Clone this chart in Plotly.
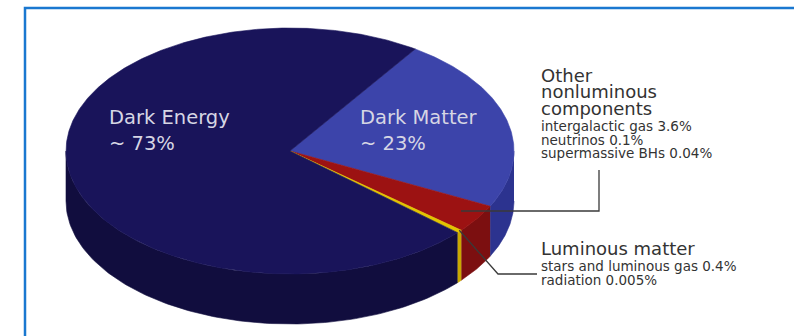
import numpy as np
import plotly.graph_objects as go

# --- data -------------------------------------------------------------
slice_names = ["Dark Matter", "Other nonluminous components", "Luminous matter", "Dark Energy"]
other_parts = ["intergalactic gas", "neutrinos", "supermassive BHs"]
other_values = [3.6, 0.1, 0.04]
luminous_parts = ["stars and luminous gas", "radiation"]
luminous_values = [0.4, 0.005]
dark_matter = 23
dark_energy = 73

slice_values = [dark_matter, sum(other_values), sum(luminous_values), dark_energy]

# --- styling ----------------------------------------------------------
top_colors = ["#3c44aa", "#9c1212", "#e2c400", "#19145a"]
side_colors = ["#2c338f", "#7c0f10", "#c8a800", "#110d3e"]
FONT = "DejaVu Sans"
TEXT_DARK = "#333333"
LABEL_LIGHT = "#d6d6e4"

W, H = 794, 336
cx, cy = 290.0, 151.0      # centre of the top face
rx, ry = 224.0, 123.0      # ellipse radii of the tilted disc
depth = 50.0               # thickness of the disc
start_deg = 56.0           # first slice starts here and runs clockwise


def rim(theta_deg, dy=0.0):
    t = np.radians(theta_deg)
    return cx + rx * np.cos(t), cy - ry * np.sin(t) + dy


total = sum(slice_values)
bounds = [start_deg]
for v in slice_values:
    bounds.append(bounds[-1] - v / total * 360.0)

fig = go.Figure()

# side walls (only the front half of the rim is visible)
for i, (s, e) in enumerate(zip(bounds[:-1], bounds[1:])):
    for k in (-1, 0, 1):
        lo, hi = max(e, -180.0 + 360 * k), min(s, 0.0 + 360 * k)
        if hi <= lo:
            continue
        th = np.linspace(hi, lo, 120)
        xt, yt = rim(th)
        xb, yb = rim(th[::-1], depth)
        fig.add_trace(go.Scatter(
            x=np.concatenate([xt, xb]), y=np.concatenate([yt, yb]),
            fill="toself", fillcolor=side_colors[i], mode="lines",
            line=dict(color=side_colors[i], width=0.6),
            hoverinfo="skip", showlegend=False))

# top face slices
for i, (s, e) in enumerate(zip(bounds[:-1], bounds[1:])):
    th = np.linspace(s, e, max(int(abs(s - e) * 2), 8))
    xa, ya = rim(th)
    fig.add_trace(go.Scatter(
        x=np.concatenate([[cx], xa, [cx]]), y=np.concatenate([[cy], ya, [cy]]),
        fill="toself", fillcolor=top_colors[i], mode="lines",
        line=dict(color=top_colors[i], width=0.6),
        name=slice_names[i], hoverinfo="name", showlegend=False))

# leader lines
ox, oy = rim((bounds[1] + bounds[2]) / 2)
lx, ly = rim(bounds[2])
fig.add_trace(go.Scatter(
    x=[ox - 16, 599, 599], y=[211, 211, 170], mode="lines",
    line=dict(color="#3a3a3a", width=1.3), hoverinfo="skip", showlegend=False))
fig.add_trace(go.Scatter(
    x=[lx - 2, 498, 537], y=[ly, 274, 274], mode="lines",
    line=dict(color="#3a3a3a", width=1.3), hoverinfo="skip", showlegend=False))


def text_line(x, baseline, txt, size, color):
    fig.add_trace(go.Scatter(
        x=[x], y=[baseline - 0.35 * size], mode="text", text=[txt],
        textposition="middle right",
        textfont=dict(family=FONT, size=size, color=color),
        hoverinfo="skip", showlegend=False))


# labels on the disc
text_line(109, 126, slice_names[3], 19.5, LABEL_LIGHT)
text_line(109, 151.5, f"~ {dark_energy:g}%", 19.5, LABEL_LIGHT)
text_line(360, 126, slice_names[0], 19.5, LABEL_LIGHT)
text_line(360, 151.5, f"~ {dark_matter:g}%", 19.5, LABEL_LIGHT)

# callout: other nonluminous components
for j, w in enumerate(["Other", "nonluminous", "components"]):
    text_line(541, 83.5 + 16.5 * j, w, 18, TEXT_DARK)
for j, (n, v) in enumerate(zip(other_parts, other_values)):
    text_line(541, 132.5 + 13.4 * j, f"{n} {v:g}%", 13.5, TEXT_DARK)

# callout: luminous matter
text_line(541, 256.7, slice_names[2], 18, TEXT_DARK)
for j, (n, v) in enumerate(zip(luminous_parts, luminous_values)):
    text_line(541, 272.5 + 13.4 * j, f"{n} {v:g}%", 13.5, TEXT_DARK)

# frame
fig.add_shape(type="rect", x0=25, y0=8, x1=W + 10, y1=H + 10,
              xref="x", yref="y", line=dict(color="#1a78d0", width=2.5),
              fillcolor="rgba(0,0,0,0)", layer="above")

fig.update_layout(
    width=W, height=H, margin=dict(l=0, r=0, t=0, b=0, pad=0),
    paper_bgcolor="white", plot_bgcolor="white",
    xaxis=dict(range=[0, W], visible=False, fixedrange=True),
    yaxis=dict(range=[H, 0], visible=False, fixedrange=True),
    showlegend=False,
)

fig.write_html("out.html")
